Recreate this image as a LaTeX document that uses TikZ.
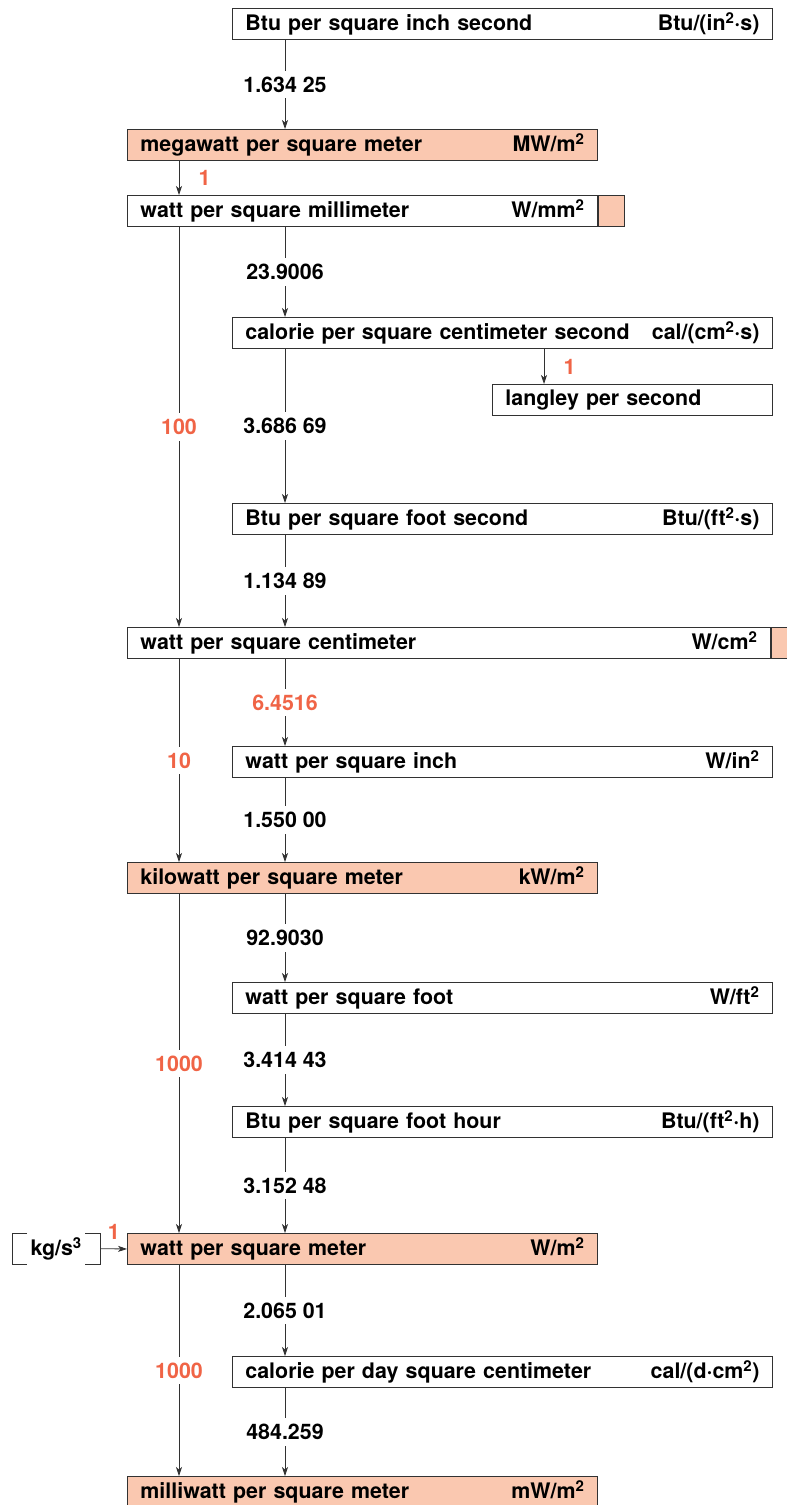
\documentclass[tikz,border=0pt]{standalone}
\usepackage{fontspec}
\setmainfont{TeX Gyre Heros}
\usetikzlibrary{arrows.meta}

\definecolor{basefill}{RGB}{250,200,176}
\definecolor{exactred}{RGB}{240,100,70}
\definecolor{rulegray}{RGB}{50,50,50}

\tikzset{
  unitbox/.style={draw=rulegray, line width=0.9pt, anchor=north west, minimum height=31pt,
    inner xsep=13pt, inner ysep=0pt},
  wide/.style={unitbox, text width=514pt},
  narrow/.style={unitbox, text width=444pt},
  basebox/.style={narrow, fill=basefill},
  swatch/.style={draw=rulegray, line width=0.9pt, fill=basefill, anchor=north west,
    minimum width=26pt, minimum height=31pt, inner sep=0pt},
  factor/.style={fill=white, inner xsep=3pt, inner ysep=6pt},
  exact/.style={factor, text=exactred},
  conv/.style={draw=rulegray, line width=0.8pt, -{Stealth[length=9pt,width=6pt,inset=2.5pt]}},
}

\begin{document}
\begin{tikzpicture}[x=1pt, y=-1pt, font=\bfseries\fontsize{21.4}{25}\selectfont]
  % page = reference window
  \useasboundingbox (0,0) rectangle (787,1505);
  \clip (0,0) rectangle (787,1505);

  % columns of the two chains
  \coordinate (lc) at (179,0);
  \coordinate (rc) at (285,0);
  \coordinate (lg) at (544,0);

  % units
  \node[wide] (b1) at (232,8) {Btu per square inch second\hfill Btu/(in\textsuperscript{2}·s)};
  \node[basebox] (b2) at (127,129) {megawatt per square meter\hfill MW/m\textsuperscript{2}};
  \node[narrow] (b3) at (127,195) {watt per square millimeter\hfill W/mm\textsuperscript{2}};
  \node[swatch] (b3sw) at (b3.north east) {};
  \node[wide] (b4) at (232,317) {calorie per square centimeter second\hfill cal/(cm\textsuperscript{2}·s)};
  \node[unitbox, text width=254pt] (b5) at (492,384) {langley per second};
  \node[wide] (b6) at (232,503) {Btu per square foot second\hfill Btu/(ft\textsuperscript{2}·s)};
  \node[unitbox, text width=617pt] (b7) at (127,627) {watt per square centimeter\hfill W/cm\textsuperscript{2}};
  \node[swatch] (b7sw) at (b7.north east) {};
  \node[wide] (b8) at (232,746) {watt per square inch\hfill W/in\textsuperscript{2}};
  \node[basebox] (b9) at (127,862) {kilowatt per square meter\hfill kW/m\textsuperscript{2}};
  \node[wide] (b10) at (232,982) {watt per square foot\hfill W/ft\textsuperscript{2}};
  \node[wide] (b11) at (232,1106) {Btu per square foot hour\hfill Btu/(ft\textsuperscript{2}·h)};
  \node[basebox] (b12) at (127,1233) {watt per square meter\hfill W/m\textsuperscript{2}};
  \node[wide] (b13) at (232,1356) {calorie per day square centimeter\hfill cal/(d·cm\textsuperscript{2})};
  \node[basebox] (b14) at (127,1476) {milliwatt per square meter\hfill mW/m\textsuperscript{2}};

  % base units in brackets
  \node[anchor=north west, minimum width=88pt, minimum height=31pt, inner sep=0pt] (kgs) at (12,1233) {kg/s\textsuperscript{3}};
  \draw[rulegray, line width=0.9pt] ([xshift=15pt]kgs.north west) -- (kgs.north west) -- (kgs.south west) -- ([xshift=15pt]kgs.south west);
  \draw[rulegray, line width=0.9pt] ([xshift=-15pt]kgs.north east) -- (kgs.north east) -- (kgs.south east) -- ([xshift=-15pt]kgs.south east);
  \draw[conv] (kgs.east) -- node[above=9pt, text=exactred, inner sep=0pt] {1} (b12.west);

  % left chain
  \draw[conv] (b2.south -| lc) -- node[right=16pt, text=exactred] {1} (b3.north -| lc);
  \draw[conv] (b3.south -| lc) -- node[exact] {100} (b7.north -| lc);
  \draw[conv] (b7.south -| lc) -- node[exact] {10} (b9.north -| lc);
  \draw[conv] (b9.south -| lc) -- node[exact] {1000} (b12.north -| lc);
  \draw[conv] (b12.south -| lc) -- node[exact] {1000} (b14.north -| lc);

  % right chain
  \draw[conv] (b1.south -| rc) -- node[factor] {1.634 25} (b2.north -| rc);
  \draw[conv] (b3.south -| rc) -- node[factor] {23.9006} (b4.north -| rc);
  \draw[conv] (b4.south -| lg) -- node[right=16pt, text=exactred] {1} (b5.north -| lg);
  \draw[conv] (b4.south -| rc) -- node[factor] {3.686 69} (b6.north -| rc);
  \draw[conv] (b6.south -| rc) -- node[factor] {1.134 89} (b7.north -| rc);
  \draw[conv] (b7.south -| rc) -- node[exact] {6.4516} (b8.north -| rc);
  \draw[conv] (b8.south -| rc) -- node[factor] {1.550 00} (b9.north -| rc);
  \draw[conv] (b9.south -| rc) -- node[factor] {92.9030} (b10.north -| rc);
  \draw[conv] (b10.south -| rc) -- node[factor] {3.414 43} (b11.north -| rc);
  \draw[conv] (b11.south -| rc) -- node[factor] {3.152 48} (b12.north -| rc);
  \draw[conv] (b12.south -| rc) -- node[factor] {2.065 01} (b13.north -| rc);
  \draw[conv] (b13.south -| rc) -- node[factor] {484.259} (b14.north -| rc);
\end{tikzpicture}
\end{document}
